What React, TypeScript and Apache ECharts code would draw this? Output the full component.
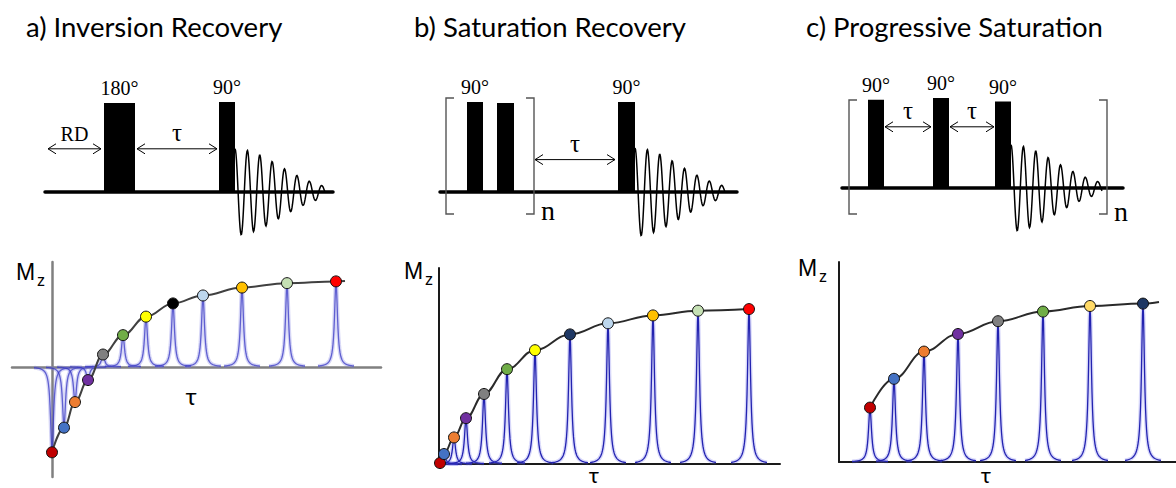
import React, { useEffect, useRef } from 'react';
import * as echarts from 'echarts';

// ---------- recovery data (τ in arbitrary delay units, Mz normalised to M0) ----------
// a) inversion recovery
const irTau = [0, 12, 23, 36, 51, 71, 94, 121, 151, 190, 235, 284];
const irMz = [-0.97, -0.69, -0.4, -0.15, 0.14, 0.36, 0.57, 0.72, 0.81, 0.9, 0.95, 0.97];
const irColors = ['#c00000', '#4472c4', '#ed7d31', '#7030a0', '#808080', '#70ad47', '#ffff00', '#000000', '#bdd7ee', '#ffc000', '#c5e0b4', '#ff0000'];
const irTailTau = [293];
const irTailMz = [0.975];

// b) saturation recovery
const srTau = [1, 5, 15, 27, 45, 68, 96, 131, 169, 214, 259, 310];
const srMz = [0.006, 0.063, 0.168, 0.29, 0.443, 0.6, 0.72, 0.82, 0.89, 0.94, 0.97, 0.98];
const srColors = ['#c00000', '#4472c4', '#ed7d31', '#7030a0', '#808080', '#70ad47', '#ffff00', '#1f3864', '#bdd7ee', '#ffc000', '#c5e0b4', '#ff0000'];

// c) progressive saturation
const psTau = [31, 55, 85, 119, 159, 204, 251, 304];
const psMz = [0.34, 0.52, 0.69, 0.8, 0.88, 0.94, 0.975, 0.99];
const psColors = ['#c00000', '#4472c4', '#ed7d31', '#7030a0', '#808080', '#70ad47', '#ffd966', '#1f3864'];
const psTailTau = [320];
const psTailMz = [1.0];

// ---------- pulse sequences: pulses [start, end, amplitude], delays [start, end, level] ----------
const irPulses = [[59, 90, 0.99], [174, 190, 1.0]];
const irPulseLabels = ['180°', '90°'];
const irDelays = [[3, 56, 0.48], [92, 172, 0.48]];
const irDelayLabels = ['RD', 'τ'];
const irFid = [[190, 280, 0.48]];

const srPulses = [[27, 43, 1.0], [57, 74, 0.99], [178, 195, 1.0]];
const srPulseLabels = ['90°', '', '90°'];
const srDelays = [[95, 175, 0.36]];
const srDelayLabels = ['τ'];
const srBlock = [[6, 94, 1.044, -0.244]];
const srFid = [[195, 285, 0.49]];

const psPulses = [[26, 42, 0.98], [91, 107, 1.0], [153, 169, 0.96]];
const psPulseLabels = ['90°', '90°', '90°'];
const psDelays = [[43, 89, 0.68], [108, 152, 0.68]];
const psDelayLabels = ['τ', 'τ'];
const psBlock = [[7, 265, 0.978, -0.289]];
const psFid = [[169, 260, 0.48]];

const SERIF = '"Liberation Serif", "Times New Roman", serif';
const SANS = 'Lato, "Liberation Sans", sans-serif';

const FID_PERIOD = 12.4;
const FID_DECAY = 63;
const LINE_HALF_WIDTH = 1.8;
const LINE_SPAN = 18;

function txt(text: string, x: number, y: number, font: string, align = 'center', color = '#000') {
  return {
    type: 'text',
    x,
    y,
    silent: true,
    style: {
      text,
      font,
      fill: color,
      align,
      textAlign: align,
      verticalAlign: 'middle',
      textVerticalAlign: 'middle',
    },
  };
}

function pulseRenderer(labels: string[]) {
  return (params: any, api: any) => {
    const p0 = api.coord([api.value(0), 0]);
    const p1 = api.coord([api.value(1), api.value(2)]);
    const children: any[] = [
      { type: 'rect', shape: { x: p0[0], y: p1[1], width: p1[0] - p0[0], height: p0[1] - p1[1] }, style: { fill: '#000' } },
    ];
    const label = labels[params.dataIndex];
    if (label) children.push(txt(label, (p0[0] + p1[0]) / 2, p1[1] - 15, `20px ${SERIF}`));
    return { type: 'group', children };
  };
}

function delayRenderer(labels: string[]) {
  return (params: any, api: any) => {
    const a = api.coord([api.value(0), api.value(2)]);
    const b = api.coord([api.value(1), api.value(2)]);
    const st = { stroke: '#000', lineWidth: 1, fill: null };
    const label = labels[params.dataIndex];
    const size = label === 'τ' ? 25 : 20;
    return {
      type: 'group',
      children: [
        { type: 'line', shape: { x1: a[0], y1: a[1], x2: b[0], y2: b[1] }, style: st },
        { type: 'polyline', shape: { points: [[a[0] + 8, a[1] - 5], [a[0], a[1]], [a[0] + 8, a[1] + 5]] }, style: st },
        { type: 'polyline', shape: { points: [[b[0] - 8, b[1] - 5], [b[0], b[1]], [b[0] - 8, b[1] + 5]] }, style: st },
        txt(label, (a[0] + b[0]) / 2, a[1] - (label === 'τ' ? 16 : 14.5), `${size}px ${SERIF}`),
      ],
    };
  };
}

function blockRenderer(params: any, api: any) {
  const tl = api.coord([api.value(0), api.value(2)]);
  const br = api.coord([api.value(1), api.value(3)]);
  const st = { stroke: '#555', lineWidth: 1.4, fill: null };
  const s = 8;
  return {
    type: 'group',
    children: [
      { type: 'polyline', shape: { points: [[tl[0] + s, tl[1]], [tl[0], tl[1]], [tl[0], br[1]], [tl[0] + s, br[1]]] }, style: st },
      { type: 'polyline', shape: { points: [[br[0] - s, tl[1]], [br[0], tl[1]], [br[0], br[1]], [br[0] - s, br[1]]] }, style: st },
      txt('n', br[0] + 14, br[1] - 3, `28px ${SERIF}`),
    ],
  };
}

function fidRenderer(params: any, api: any) {
  const t0 = api.value(0);
  const t1 = api.value(1);
  const amp = api.value(2);
  const pts: number[][] = [];
  for (let s = 0; s <= t1 - t0; s += 0.5) {
    const v = amp * Math.exp(-((s / FID_DECAY) ** 2)) * Math.cos((2 * Math.PI * s) / FID_PERIOD);
    pts.push(api.coord([t0 + s, v]));
  }
  return { type: 'polyline', shape: { points: pts }, style: { stroke: '#000', lineWidth: 1.5, fill: null } };
}

// Lorentzian line drawn from the baseline up (or down) to each measured Mz
function peakRenderer(halo: string, stroke: string, width: number) {
  return (params: any, api: any) => {
    const apex = api.coord([api.value(0), api.value(1)]);
    const base = api.coord([api.value(0), 0]);
    const cs = params.coordSys;
    const pts: number[][] = [];
    for (let d = -LINE_SPAN; d <= LINE_SPAN; d += 0.5) {
      const x = apex[0] + d;
      if (x < cs.x || x > cs.x + cs.width) continue;
      const f = 1 / (1 + (d / LINE_HALF_WIDTH) ** 2);
      pts.push([x, base[1] + (apex[1] - base[1]) * f]);
    }
    return {
      type: 'group',
      children: [
        { type: 'polyline', shape: { points: pts }, style: { stroke: halo, lineWidth: 4, fill: null } },
        { type: 'polyline', shape: { points: pts }, style: { stroke, lineWidth: width, fill: null } },
      ],
    };
  };
}

const hidden = { show: false };

function seqAxes(grid: number, width: number) {
  return {
    x: {
      type: 'value', gridIndex: grid, min: 0, max: width,
      axisLine: { show: true, onZero: false, lineStyle: { color: '#000', width: 3.5 } },
      axisTick: hidden, axisLabel: hidden, splitLine: hidden,
    },
    y: { type: 'value', gridIndex: grid, min: 0, max: 1, show: false },
  };
}

function recAxes(grid: number, xmin: number, xmax: number, ymin: number, ymax: number, color: string, w: number) {
  const line = { show: true, onZero: true, lineStyle: { color, width: w } };
  return {
    x: { type: 'value', gridIndex: grid, min: xmin, max: xmax, axisLine: line, axisTick: hidden, axisLabel: hidden, splitLine: hidden },
    y: { type: 'value', gridIndex: grid, min: ymin, max: ymax, axisLine: line, axisTick: hidden, axisLabel: hidden, splitLine: hidden },
  };
}

function dots(tau: number[], mz: number[], colors: string[]) {
  return tau.map((t, i) => ({ value: [t, mz[i]], itemStyle: { color: colors[i] } }));
}

function pairs(tau: number[], mz: number[]) {
  return tau.map((t, i) => [t, mz[i]]);
}

function recoverySeries(idx: number, tau: number[], mz: number[], colors: string[], tailTau: number[], tailMz: number[], halo: string, stroke: string, curveColor: string) {
  return [
    {
      type: 'custom', xAxisIndex: idx, yAxisIndex: idx, z: 2,
      renderItem: peakRenderer(halo, stroke, 1.3),
      data: pairs(tau, mz),
    },
    {
      type: 'line', xAxisIndex: idx, yAxisIndex: idx, z: 3,
      smooth: 0.4, smoothMonotone: 'x', showSymbol: false, symbol: 'none',
      lineStyle: { color: curveColor, width: 2 },
      data: pairs(tau.concat(tailTau), mz.concat(tailMz)),
    },
    {
      type: 'scatter', xAxisIndex: idx, yAxisIndex: idx, z: 4,
      symbolSize: 11,
      itemStyle: { borderColor: '#111', borderWidth: 1, opacity: 1 },
      data: dots(tau, mz, colors),
    },
  ];
}

function seqSeries(idx: number, pulses: number[][], pulseLabels: string[], delays: number[][], delayLabels: string[], fid: number[][], block?: number[][]) {
  const s: any[] = [
    { type: 'custom', xAxisIndex: idx, yAxisIndex: idx, z: 3, renderItem: pulseRenderer(pulseLabels), data: pulses },
    { type: 'custom', xAxisIndex: idx, yAxisIndex: idx, z: 3, renderItem: delayRenderer(delayLabels), data: delays },
    { type: 'custom', xAxisIndex: idx, yAxisIndex: idx, z: 3, renderItem: fidRenderer, data: fid },
  ];
  if (block) s.push({ type: 'custom', xAxisIndex: idx, yAxisIndex: idx, z: 3, renderItem: blockRenderer, data: block });
  return s;
}

function mzLabel(x: number, y: number) {
  return [txt('M', x, y, `23px "Liberation Sans", Arial, sans-serif`, 'left'), txt('z', x + 21, y + 8, `16px "Liberation Sans", Arial, sans-serif`, 'left')];
}

export default function App() {
  const ref = useRef<HTMLDivElement>(null);

  useEffect(() => {
    document.body.style.margin = '0';
    const chart = echarts.init(ref.current as HTMLDivElement, undefined, { renderer: 'svg' });

    const axes = [
      seqAxes(0, 288),
      seqAxes(1, 297),
      seqAxes(2, 281),
      recAxes(3, -40, 329, -1.25, 1.19, '#808080', 2.5),
      recAxes(4, 0, 341, 0, 1.24, '#1a1a1a', 2),
      recAxes(5, 0, 337, 0, 1.25, '#1a1a1a', 2),
    ];

    chart.setOption({
      animation: false,
      backgroundColor: '#ffffff',
      grid: [
        { left: 45, top: 102, width: 288, height: 90 },
        { left: 440, top: 102, width: 297, height: 90 },
        { left: 842, top: 98, width: 281, height: 90 },
        { left: 12, top: 262, width: 369, height: 215 },
        { left: 439, top: 268, width: 341, height: 196 },
        { left: 839, top: 262, width: 337, height: 200 },
      ],
      xAxis: axes.map((a) => a.x),
      yAxis: axes.map((a) => a.y),
      graphic: [
        txt('a) Inversion Recovery', 26, 26, `27.5px ${SANS}`, 'left'),
        txt('b) Saturation Recovery', 414, 26, `27.5px ${SANS}`, 'left'),
        txt('c) Progressive Saturation', 806, 26, `27.5px ${SANS}`, 'left'),
        ...mzLabel(16, 272),
        ...mzLabel(404, 271),
        ...mzLabel(798, 268),
        txt('τ', 191, 395, `24px ${SANS}`),
        txt('τ', 594, 474, `22px ${SANS}`),
        txt('τ', 986, 474, `22px ${SANS}`),
      ],
      series: [
        ...seqSeries(0, irPulses, irPulseLabels, irDelays, irDelayLabels, irFid),
        ...seqSeries(1, srPulses, srPulseLabels, srDelays, srDelayLabels, srFid, srBlock),
        ...seqSeries(2, psPulses, psPulseLabels, psDelays, psDelayLabels, psFid, psBlock),
        ...recoverySeries(3, irTau, irMz, irColors, irTailTau, irTailMz, 'rgba(120,120,225,0.3)', 'rgba(55,55,195,0.75)', '#404040'),
        ...recoverySeries(4, srTau, srMz, srColors, [], [], 'rgba(100,100,235,0.25)', '#2323b0', '#2a2a2a'),
        ...recoverySeries(5, psTau, psMz, psColors, psTailTau, psTailMz, 'rgba(100,100,235,0.25)', '#2323b0', '#2a2a2a'),
      ],
    });

    return () => chart.dispose();
  }, []);

  return <div ref={ref} style={{ position: 'absolute', left: 0, top: 0, width: 1176, height: 488 }} />;
}
